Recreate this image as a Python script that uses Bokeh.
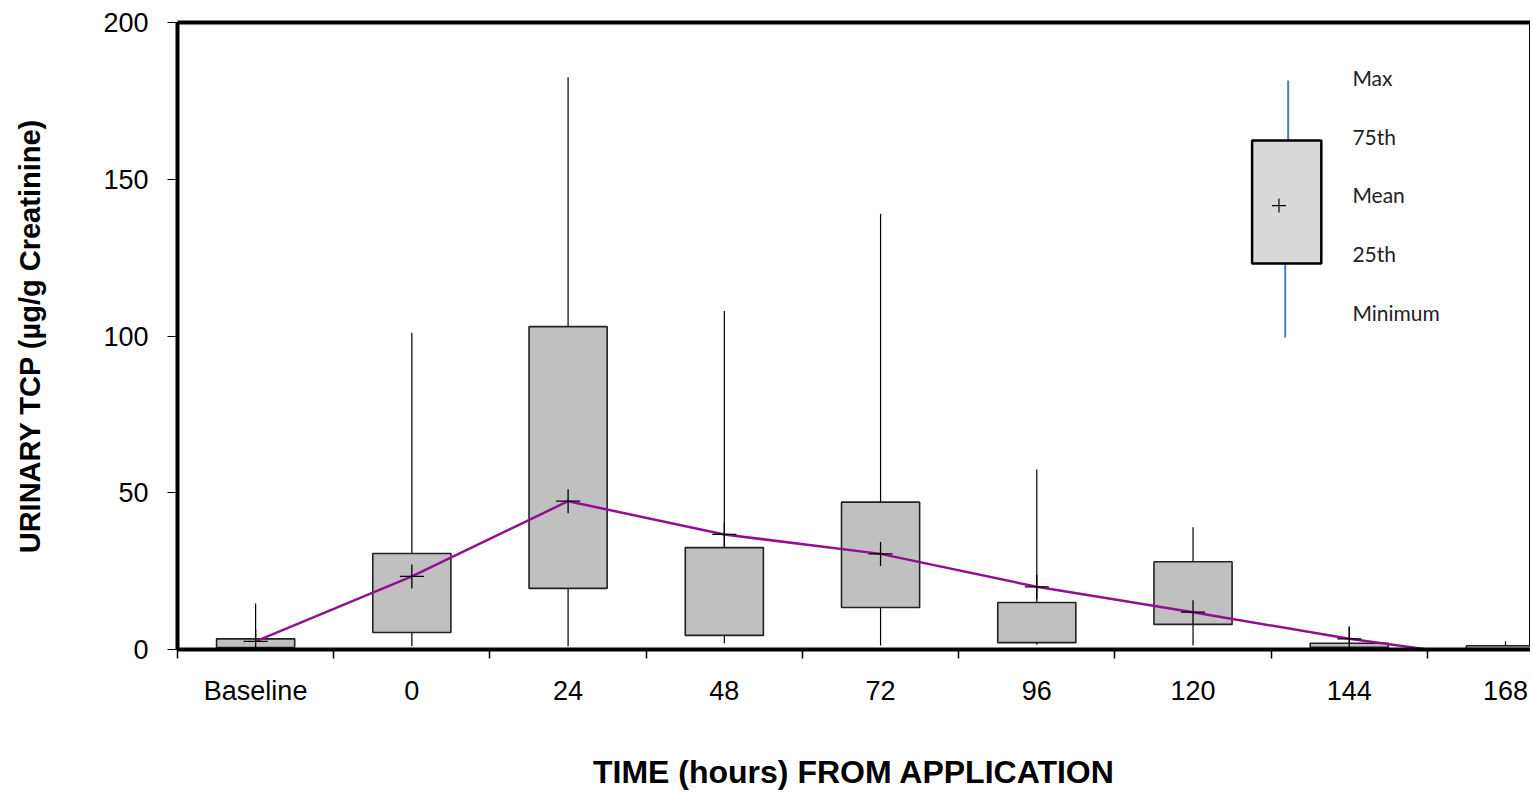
import numpy as np
from bokeh.plotting import figure
from bokeh.models import Range1d, FixedTicker, LinearAxis
from bokeh.core.properties import value
from bokeh.embed import file_html
from bokeh.resources import INLINE

# ---- data ----
categories = ["Baseline", "0", "24", "48", "72", "96", "120", "144", "168"]
max_vals = [14.7, 101.0, 182.5, 108.0, 139.0, 57.4, 39.0, 7.3, 2.6]
q3_vals = [3.4, 30.6, 103.0, 32.5, 47.0, 15.0, 28.0, 2.0, 1.2]
q1_vals = [0.6, 5.4, 19.5, 4.5, 13.4, 2.2, 8.0, 0.7, 0.0]
min_vals = [0.2, 1.0, 1.0, 2.0, 1.3, 1.5, 1.3, 0.5, 0.3]
mean_vals = [2.6, 23.3, 47.3, 36.7, 30.5, 20.0, 11.9, 3.4, -3.4]

legend_labels = ["Max", "75th", "Mean", "25th", "Minimum"]

x = np.arange(len(categories))

TICK_FONT = "Liberation Sans"

p = figure(width=1530, height=794, output_backend="svg", toolbar_location=None,
           x_range=Range1d(-0.5, 8.16), y_range=Range1d(0, 200),
           min_border_left=177, min_border_top=22, min_border_right=0,
           min_border_bottom=145, background_fill_color="white",
           border_fill_color="white")
p.grid.visible = False
p.outline_line_color = "black"
p.outline_line_width = 1

# whiskers
p.segment(x0=x, y0=min_vals, x1=x, y1=max_vals, line_color="black", line_width=1.2)
# boxes
p.vbar(x=x, width=0.5, bottom=q1_vals, top=q3_vals, fill_color="#c0c0c0",
       line_color="#222222", line_width=1.6)
# mean line
p.line(x, mean_vals, line_color="#930f91", line_width=2.5)
# mean markers
p.scatter(x, mean_vals, marker="cross", size=24, line_color="black", line_width=1.3)

# ---- legend (drawn in data space) ----
p.segment(x0=[6.609, 6.59], y0=[181.5, 123.1], x1=[6.609, 6.59], y1=[162.4, 99.5],
          line_color="#4a7ebb", line_width=2)
p.quad(left=[6.378], right=[6.821], bottom=[123.1], top=[162.4],
       fill_color="#d9d9d9", line_color="black", line_width=2.5)
p.scatter([6.55], [141.6], marker="cross", size=14, line_color="black", line_width=1.2)
p.text(x=[7.02] * 5, y=[182.5, 163.6, 145.1, 126.3, 107.5], text=legend_labels,
       text_font=value("Lato"), text_font_size="21px", text_color="#222222",
       text_align="left", text_baseline="middle")

# ---- axes ----
xa = p.xaxis[0]
xa.ticker = FixedTicker(ticks=list(x), minor_ticks=[i - 0.5 for i in range(len(categories) + 1)])
xa.major_label_overrides = {int(i): c for i, c in zip(x, categories)}
xa.major_tick_out = 0
xa.major_tick_in = 0
xa.minor_tick_out = 9
xa.minor_tick_in = 0
xa.minor_tick_line_color = "black"
xa.minor_tick_line_width = 1.5
xa.axis_line_width = 4
xa.axis_line_color = "black"
xa.major_label_text_font = TICK_FONT
xa.major_label_text_font_size = "27px"
xa.major_label_text_color = "black"
xa.major_label_standoff = 17
xa.axis_label = "TIME (hours) FROM APPLICATION"
xa.axis_label_text_font = TICK_FONT
xa.axis_label_text_font_style = "bold"
xa.axis_label_text_font_size = "32px"
xa.axis_label_text_color = "black"
xa.axis_label_standoff = 45

ya = p.yaxis[0]
ya.ticker = FixedTicker(ticks=[0, 50, 100, 150, 200])
ya.major_tick_out = 10
ya.major_tick_in = 0
ya.minor_tick_out = 0
ya.minor_tick_in = 0
ya.major_tick_line_color = "black"
ya.major_tick_line_width = 1.2
ya.axis_line_width = 4
ya.axis_line_color = "black"
ya.major_label_text_font = TICK_FONT
ya.major_label_text_font_size = "27px"
ya.major_label_text_color = "black"
ya.major_label_standoff = 19
ya.axis_label = "URINARY TCP (µg/g Creatinine)"
ya.axis_label_text_font = TICK_FONT
ya.axis_label_text_font_style = "bold"
ya.axis_label_text_font_size = "29px"
ya.axis_label_text_color = "black"
ya.axis_label_standoff = 54

top_axis = LinearAxis(ticker=FixedTicker(ticks=[]), axis_line_width=4, axis_line_color="black",
                      major_tick_out=0, major_tick_in=0, minor_tick_out=0, minor_tick_in=0,
                      major_label_text_font_size="0px", major_label_standoff=0)
p.add_layout(top_axis, "above")

open("out.html", "w").write(file_html(p, INLINE))
